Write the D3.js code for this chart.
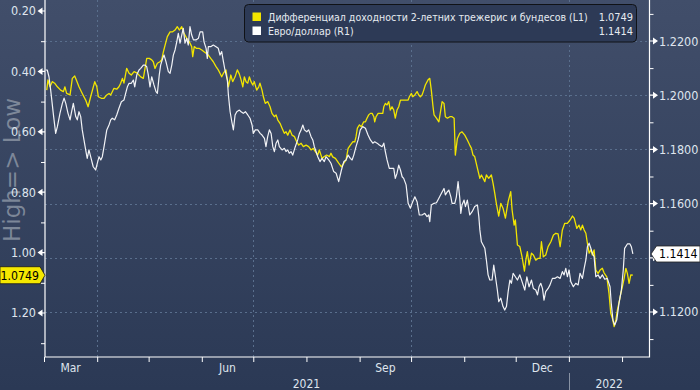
<!DOCTYPE html>
<html><head><meta charset="utf-8">
<script src="https://cdn.jsdelivr.net/npm/d3@7"></script>
<style>html,body{margin:0;padding:0;background:#2c3a56;}svg{display:block}</style>
</head><body><svg id="c" width="700" height="390"></svg>
<script>
// ---- DATA (day = days since 2021-03-01) ----
const START = Date.UTC(2021, 2, 1);
const END = Date.UTC(2022, 1, 17);
// 2y UST - Bund spread (left axis, inverted)
const spreadData = [[1.6,0.462],[2.3,0.428],[3.5,0.451],[4.8,0.434],[6.2,0.439],[7.8,0.451],[9.7,0.462],[11.3,0.467],[12.2,0.451],[13.2,0.473],[15.2,0.478],[16.5,0.423],[17.9,0.415],[18.8,0.428],[20.4,0.451],[22.3,0.473],[24.3,0.495],[25.7,0.517],[27.2,0.484],[29.6,0.434],[30.8,0.451],[31.7,0.484],[33.4,0.489],[35.0,0.489],[36.6,0.478],[37.9,0.473],[38.9,0.478],[40.8,0.456],[42.4,0.459],[43.7,0.451],[44.7,0.439],[45.7,0.423],[46.6,0.439],[48.2,0.390],[49.6,0.406],[50.9,0.412],[52.5,0.401],[54.4,0.406],[56.4,0.418],[57.9,0.423],[58.9,0.390],[59.9,0.357],[61.4,0.357],[62.8,0.362],[63.7,0.368],[64.7,0.390],[66.1,0.373],[67.6,0.368],[68.6,0.362],[69.6,0.335],[70.6,0.313],[71.9,0.285],[73.5,0.269],[75.0,0.269],[76.4,0.263],[77.7,0.252],[78.9,0.263],[80.3,0.252],[81.6,0.274],[83.2,0.290],[84.7,0.302],[86.1,0.318],[86.7,0.351],[87.6,0.318],[89.0,0.324],[90.6,0.324],[92.0,0.329],[93.3,0.335],[94.5,0.340],[95.8,0.346],[97.2,0.357],[98.7,0.368],[100.3,0.384],[101.6,0.395],[102.6,0.406],[103.6,0.418],[104.6,0.406],[106.1,0.395],[107.5,0.451],[108.9,0.412],[110.0,0.434],[111.4,0.418],[112.7,0.395],[113.9,0.409],[114.9,0.428],[115.9,0.451],[116.8,0.418],[117.8,0.434],[118.8,0.439],[119.7,0.418],[120.7,0.434],[121.7,0.445],[122.6,0.434],[124.0,0.462],[125.2,0.451],[125.9,0.439],[127.1,0.462],[127.9,0.484],[129.0,0.506],[130.4,0.500],[131.8,0.517],[132.9,0.539],[134.3,0.550],[135.3,0.544],[136.3,0.561],[137.6,0.572],[138.8,0.588],[140.1,0.605],[141.1,0.600],[142.1,0.611],[143.4,0.594],[144.6,0.611],[146.0,0.616],[147.3,0.633],[148.5,0.644],[149.9,0.638],[151.2,0.649],[152.8,0.644],[154.3,0.649],[155.7,0.660],[157.0,0.655],[158.2,0.666],[159.6,0.677],[160.5,0.660],[162.1,0.688],[163.4,0.682],[164.8,0.677],[166.4,0.682],[167.3,0.671],[168.3,0.683],[169.9,0.688],[171.8,0.704],[173.4,0.716],[174.8,0.704],[176.1,0.693],[177.3,0.655],[178.6,0.644],[180.0,0.633],[181.2,0.633],[181.9,0.616],[182.7,0.588],[183.9,0.577],[185.0,0.583],[186.4,0.567],[187.4,0.567],[188.3,0.555],[189.3,0.544],[190.3,0.539],[191.3,0.539],[192.3,0.550],[192.8,0.567],[193.6,0.550],[194.8,0.539],[196.1,0.539],[197.5,0.539],[198.1,0.517],[199.0,0.506],[200.0,0.511],[201.0,0.500],[201.9,0.528],[202.9,0.517],[203.9,0.528],[204.8,0.555],[205.8,0.528],[206.8,0.517],[207.8,0.495],[209.2,0.495],[210.7,0.495],[212.3,0.495],[213.0,0.484],[214.2,0.473],[215.0,0.484],[216.2,0.478],[217.5,0.467],[218.5,0.478],[219.4,0.484],[220.4,0.478],[221.4,0.462],[222.3,0.445],[223.9,0.428],[224.9,0.423],[225.8,0.462],[226.8,0.517],[227.4,0.544],[228.8,0.555],[230.2,0.567],[231.3,0.528],[232.1,0.500],[233.2,0.506],[234.0,0.550],[235.2,0.555],[236.6,0.550],[237.9,0.550],[239.1,0.555],[239.8,0.677],[241.0,0.622],[242.4,0.605],[243.7,0.600],[245.3,0.611],[246.8,0.627],[248.2,0.644],[249.2,0.655],[250.1,0.677],[251.1,0.682],[252.7,0.721],[254.1,0.754],[255.0,0.743],[256.0,0.754],[257.0,0.765],[257.9,0.743],[259.3,0.754],[260.8,0.743],[261.8,0.771],[262.8,0.804],[263.7,0.837],[265.1,0.879],[266.3,0.837],[267.6,0.853],[269.0,0.886],[270.6,0.831],[272.1,0.798],[272.9,0.859],[274.1,0.909],[274.8,0.892],[276.0,0.975],[277.4,0.980],[278.7,1.014],[280.1,1.061],[280.9,1.025],[281.8,0.997],[282.8,1.041],[284.2,1.002],[285.3,1.008],[286.7,1.025],[288.1,1.019],[289.2,1.019],[290.0,0.964],[291.1,1.014],[292.5,1.008],[293.9,0.980],[295.5,0.964],[297.0,0.942],[298.4,0.936],[299.7,0.938],[300.9,0.980],[302.2,0.925],[303.6,0.903],[305.1,0.903],[306.7,0.892],[308.1,0.879],[309.1,0.886],[310.6,0.920],[311.9,0.909],[312.9,0.925],[313.9,0.909],[314.9,0.925],[315.9,0.936],[316.8,0.969],[317.8,1.002],[318.8,0.991],[319.7,1.008],[320.7,0.991],[321.7,1.058],[323.0,1.069],[324.2,1.058],[325.5,1.052],[326.5,1.067],[328.1,1.080],[329.4,1.135],[330.4,1.201],[331.4,1.218],[332.4,1.245],[333.4,1.223],[334.3,1.190],[335.3,1.163],[336.3,1.135],[337.2,1.113],[338.2,1.085],[339.2,1.052],[340.1,1.069],[341.1,1.102],[342.1,1.074],[343.3,1.0749]];
// EUR/USD (right axis)
const eurData = [[1.0,1.2093],[1.9,1.2093],[2.9,1.2068],[3.9,1.2019],[5.4,1.1933],[6.8,1.1859],[7.8,1.1884],[9.3,1.1933],[10.7,1.1970],[11.7,1.1989],[12.7,1.1970],[14.0,1.1933],[15.2,1.1909],[15.9,1.1933],[17.1,1.1970],[18.5,1.1921],[19.4,1.1909],[20.4,1.1939],[21.4,1.1921],[22.3,1.1872],[23.3,1.1835],[24.3,1.1798],[25.2,1.1767],[26.2,1.1798],[27.2,1.1773],[28.7,1.1736],[30.1,1.1724],[31.1,1.1749],[32.1,1.1773],[33.1,1.1761],[34.0,1.1773],[35.0,1.1810],[36.6,1.1872],[37.9,1.1890],[38.9,1.1909],[39.8,1.1915],[41.2,1.1909],[42.4,1.1927],[43.7,1.1952],[45.1,1.1976],[46.6,1.1982],[47.6,1.2007],[48.6,1.2031],[49.6,1.2044],[50.9,1.2044],[52.1,1.2056],[52.9,1.2031],[54.1,1.2075],[55.4,1.2093],[56.4,1.2099],[57.9,1.2111],[58.9,1.2111],[59.9,1.2105],[60.8,1.2075],[61.8,1.2031],[62.8,1.2068],[64.1,1.2038],[65.3,1.2013],[66.1,1.2007],[67.2,1.2075],[68.0,1.2111],[69.2,1.2136],[70.0,1.2148],[71.1,1.2124],[72.5,1.2087],[73.5,1.2081],[74.5,1.2111],[75.4,1.2148],[76.4,1.2167],[77.4,1.2197],[78.3,1.2228],[79.3,1.2192],[80.3,1.2222],[81.2,1.2247],[82.2,1.2192],[83.2,1.2210],[84.1,1.2185],[85.1,1.2253],[86.1,1.2222],[87.1,1.2204],[88.6,1.2204],[90.0,1.2210],[91.0,1.2234],[92.5,1.2234],[93.3,1.2197],[94.5,1.2173],[95.2,1.2136],[95.8,1.2179],[97.2,1.2179],[98.7,1.2185],[100.3,1.2179],[101.6,1.2173],[102.6,1.2148],[103.6,1.2161],[104.6,1.2124],[105.5,1.2093],[106.9,1.2056],[107.5,1.2001],[108.5,1.1939],[109.5,1.1902],[110.4,1.1872],[111.4,1.1927],[112.4,1.1939],[113.9,1.1945],[114.9,1.1939],[116.2,1.1933],[117.4,1.1939],[118.8,1.1927],[120.1,1.1915],[121.3,1.1890],[122.0,1.1859],[123.2,1.1872],[124.6,1.1872],[126.0,1.1859],[127.1,1.1853],[128.5,1.1841],[129.4,1.1810],[130.4,1.1847],[131.4,1.1872],[132.4,1.1859],[133.4,1.1810],[134.3,1.1792],[135.3,1.1823],[136.3,1.1835],[137.2,1.1810],[138.8,1.1798],[140.1,1.1804],[141.1,1.1792],[142.1,1.1798],[143.0,1.1786],[144.0,1.1792],[145.0,1.1779],[146.5,1.1810],[147.9,1.1835],[148.9,1.1859],[149.9,1.1872],[150.9,1.1890],[151.8,1.1872],[153.2,1.1865],[154.3,1.1872],[155.7,1.1847],[156.7,1.1835],[157.6,1.1810],[158.6,1.1792],[159.6,1.1773],[160.9,1.1755],[162.1,1.1767],[163.4,1.1755],[164.4,1.1773],[166.0,1.1761],[167.3,1.1749],[168.9,1.1718],[170.3,1.1712],[171.8,1.1681],[173.4,1.1724],[174.8,1.1755],[176.1,1.1761],[177.3,1.1779],[178.6,1.1767],[179.6,1.1761],[180.6,1.1779],[181.9,1.1810],[183.1,1.1835],[184.4,1.1872],[185.8,1.1884],[187.4,1.1878],[188.9,1.1853],[190.3,1.1835],[191.7,1.1823],[192.8,1.1828],[194.2,1.1823],[195.5,1.1816],[197.1,1.1810],[198.1,1.1823],[199.0,1.1792],[200.0,1.1761],[201.3,1.1730],[202.9,1.1730],[203.9,1.1730],[204.8,1.1693],[205.8,1.1712],[206.8,1.1742],[207.8,1.1724],[208.8,1.1699],[209.7,1.1693],[211.1,1.1669],[212.3,1.1601],[213.6,1.1583],[214.6,1.1601],[216.2,1.1625],[217.5,1.1607],[218.8,1.1558],[220.4,1.1558],[222.0,1.1564],[223.3,1.1552],[224.3,1.1558],[224.9,1.1533],[225.8,1.1595],[227.4,1.1601],[228.8,1.1603],[230.2,1.1620],[231.7,1.1638],[233.2,1.1656],[234.0,1.1632],[235.2,1.1644],[236.0,1.1650],[237.2,1.1625],[237.9,1.1601],[239.5,1.1601],[240.4,1.1625],[241.4,1.1681],[242.4,1.1620],[243.0,1.1564],[243.7,1.1595],[244.9,1.1613],[245.7,1.1589],[246.8,1.1613],[248.2,1.1558],[249.6,1.1570],[251.1,1.1589],[252.7,1.1595],[253.5,1.1552],[254.1,1.1503],[255.0,1.1459],[256.0,1.1447],[257.0,1.1435],[257.9,1.1392],[258.9,1.1337],[259.9,1.1318],[261.2,1.1318],[262.2,1.1373],[263.2,1.1330],[264.3,1.1281],[265.1,1.1238],[266.3,1.1251],[267.6,1.1220],[268.6,1.1207],[269.6,1.1220],[270.6,1.1275],[271.6,1.1318],[272.5,1.1306],[273.5,1.1343],[274.8,1.1330],[276.0,1.1318],[277.4,1.1337],[278.7,1.1312],[280.3,1.1281],[281.5,1.1330],[282.8,1.1293],[284.2,1.1318],[285.3,1.1287],[286.7,1.1281],[287.7,1.1263],[288.6,1.1293],[289.6,1.1306],[290.6,1.1287],[291.5,1.1244],[292.5,1.1275],[293.9,1.1287],[295.0,1.1300],[296.4,1.1324],[297.8,1.1324],[299.3,1.1330],[300.9,1.1324],[302.2,1.1349],[303.2,1.1337],[304.2,1.1361],[305.1,1.1330],[306.1,1.1355],[307.1,1.1312],[308.6,1.1293],[310.0,1.1306],[311.4,1.1300],[312.5,1.1343],[313.9,1.1324],[314.9,1.1361],[315.9,1.1392],[316.8,1.1441],[317.8,1.1454],[318.8,1.1435],[319.7,1.1417],[320.7,1.1404],[321.7,1.1330],[323.0,1.1337],[324.2,1.1324],[325.5,1.1337],[326.9,1.1321],[328.4,1.1324],[330.0,1.1293],[330.7,1.1232],[331.7,1.1170],[332.7,1.1152],[333.9,1.1170],[335.2,1.1232],[336.6,1.1281],[337.7,1.1355],[338.5,1.1435],[340.1,1.1451],[341.6,1.1451],[342.4,1.1441],[343.3,1.1414]];

const leftTicks = [0.2, 0.4, 0.6, 0.8, 1.0, 1.2];
const leftMinor = [0.3, 0.5, 0.7, 0.9, 1.1, 1.3];
const rightTicks = [1.12, 1.14, 1.16, 1.18, 1.20, 1.22];
const rightMinor = [1.11, 1.13, 1.15, 1.17, 1.19, 1.21, 1.23];
const hiddenRightLabels = [1.14];
const monthLabels = [["2021-03-01","Mar"],["2021-06-01","Jun"],["2021-09-01","Sep"],["2021-12-01","Dec"]];
const gridMonths = ["2021-04-01","2021-07-01","2021-10-01","2022-01-01"];
const yearLabels = [["2021","2021-03-01","2022-01-01"],["2022","2022-01-01","2022-02-17"]];
const legendNames = ["Дифференциал доходности 2-летних трежерис и бундесов (L1)", "Евро/доллар (R1)"];
const lastValues = [1.0749, 1.1414];
const axisTitle = "High=> Low";

// ---- LAYOUT ----
const W = 700, H = 390;
const L = 45, R = 649.5, T = 0, B = 357;
const FONT = "'DejaVu Sans Condensed','DejaVu Sans',sans-serif";
const svg = d3.select("#c");

const toDate = d => new Date(START + d * 864e5);
const parse = s => new Date(s + "T00:00:00Z");
const x = d3.scaleUtc().domain([new Date(START), new Date(END)]).range([44, R]);
const yL = d3.scaleLinear().domain([0.16358, 1.34570]).range([T, B]);
const yR = d3.scaleLinear().domain([1.23513, 1.10339]).range([T, B]);

const defs = svg.append("defs");
const g1 = defs.append("linearGradient").attr("id","bg").attr("x1",0).attr("y1",0).attr("x2",0).attr("y2",1);
g1.append("stop").attr("offset","0%").attr("stop-color","#414e6a");
g1.append("stop").attr("offset","100%").attr("stop-color","#2b3955");
defs.append("clipPath").attr("id","plot").append("rect").attr("x",L).attr("y",T).attr("width",R-L).attr("height",B-T);

svg.append("rect").attr("width",W).attr("height",H).attr("fill","url(#bg)");

// axis title
svg.append("text").attr("transform",`translate(20,170) rotate(-90)`)
  .attr("text-anchor","middle").attr("font-family","'DejaVu Sans',sans-serif").attr("font-size",23)
  .attr("fill","#8a94a3").attr("fill-opacity",0.85).text(axisTitle);

// grid
const grid = svg.append("g").attr("stroke","#5a6f8d").attr("stroke-width",1).attr("stroke-dasharray","2,3");
grid.selectAll("line.h").data(rightTicks).join("line")
  .attr("x1",L).attr("x2",R).attr("y1",d=>Math.round(yR(d))+0.5).attr("y2",d=>Math.round(yR(d))+0.5);
grid.selectAll("line.v").data(gridMonths).join("line")
  .attr("y1",T).attr("y2",B).attr("x1",d=>Math.round(x(parse(d)))+0.5).attr("x2",d=>Math.round(x(parse(d)))+0.5);

// lines
const plot = svg.append("g").attr("clip-path","url(#plot)");
const lineL = d3.line().x(d=>x(toDate(d[0]))).y(d=>yL(d[1]));
const lineR = d3.line().x(d=>x(toDate(d[0]))).y(d=>yR(d[1]));
plot.append("path").attr("d",lineL(spreadData)).attr("fill","none").attr("stroke","#f2e500").attr("stroke-width",1.3).attr("stroke-linejoin","round");
plot.append("path").attr("d",lineR(eurData)).attr("fill","none").attr("stroke","#f2f3f6").attr("stroke-width",1.2).attr("stroke-linejoin","round");

// frame
const frame = svg.append("g").attr("stroke","#ffffff").attr("stroke-width",1.2).attr("fill","none");
frame.append("path").attr("d",`M${L},${T}V${B}H${R}V${T}`);

// bottom ticks
const xAxis = d3.axisBottom(x).ticks(d3.utcMonth.every(1)).tickSize(5).tickFormat("");
const gx = svg.append("g").attr("transform",`translate(0,${B})`).call(xAxis);
gx.select(".domain").remove();
gx.selectAll(".tick line").attr("stroke","#fff");

// minor y ticks
const gl = svg.append("g").attr("transform",`translate(${L},0)`).call(d3.axisLeft(yL).tickValues(leftMinor).tickSize(4).tickFormat(""));
gl.select(".domain").remove(); gl.selectAll(".tick line").attr("stroke","#fff");
const gr = svg.append("g").attr("transform",`translate(${R},0)`).call(d3.axisRight(yR).tickValues(rightMinor).tickSize(4).tickFormat(""));
gr.select(".domain").remove(); gr.selectAll(".tick line").attr("stroke","#fff");

// major tick arrows + labels
const lbl = "#dfe5ee";
svg.selectAll("path.la").data(leftTicks).join("path")
  .attr("d",d=>{const y=yL(d);return `M${L},${y-0.6}H42.5V${y-3.5}L37.5,${y}L42.5,${y+3.5}V${y+0.6}H${L}Z`;})
  .attr("fill","#fff");
svg.selectAll("text.lt").data(leftTicks).join("text")
  .attr("x",36).attr("y",d=>yL(d)+4.5).attr("text-anchor","end")
  .attr("font-family",FONT).attr("font-size",12.5).attr("fill",lbl).text(d3.format(".2f"));
svg.selectAll("path.ra").data(rightTicks).join("path")
  .attr("d",d=>{const y=yR(d);return `M${R},${y-0.6}H653V${y-3.5}L658,${y}L653,${y+3.5}V${y+0.6}H${R}Z`;})
  .attr("fill","#fff");
svg.selectAll("text.rt").data(rightTicks.filter(d=>!hiddenRightLabels.includes(d))).join("text")
  .attr("x",659).attr("y",d=>yR(d)+4.5).attr("text-anchor","start")
  .attr("font-family",FONT).attr("font-size",12.5).attr("fill",lbl).text(d3.format(".4f"));

// month labels (centered in month)
svg.selectAll("text.m").data(monthLabels).join("text")
  .attr("x",d=>{const a=parse(d[0]);return (x(a)+x(d3.utcMonth.offset(a,1)))/2;})
  .attr("y",372).attr("text-anchor","middle").attr("font-family",FONT).attr("font-size",12)
  .attr("fill",lbl).text(d=>d[1]);
svg.selectAll("text.y").data(yearLabels).join("text")
  .attr("x",d=>(x(parse(d[1]))+Math.min(x(parse(d[2])),R))/2)
  .attr("y",388).attr("text-anchor","middle").attr("font-family",FONT).attr("font-size",12)
  .attr("fill",lbl).text(d=>d[0]);
svg.append("line").attr("x1",Math.round(x(parse("2022-01-01")))+0.5).attr("x2",Math.round(x(parse("2022-01-01")))+0.5)
  .attr("y1",373).attr("y2",H).attr("stroke","#8892a3").attr("stroke-width",1);

// legend
const lg = svg.append("g");
lg.append("rect").attr("x",244.5).attr("y",4.5).attr("width",392).attr("height",37.5).attr("rx",4)
  .attr("fill","#2d3a56").attr("stroke","#101216").attr("stroke-width",1);
const colors = ["#f2e500","#ffffff"];
legendNames.forEach((n,i)=>{
  const yy = 12.5 + i*14;
  lg.append("rect").attr("x",252.5).attr("y",yy).attr("width",8.5).attr("height",8.5).attr("fill",colors[i]);
  lg.append("text").attr("x",268).attr("y",yy+8.5).attr("font-family",FONT).attr("font-size",10.5)
    .attr("fill","#e6eaf0").text(n);
  lg.append("text").attr("x",633).attr("y",yy+8.5).attr("text-anchor","end").attr("font-family",FONT).attr("font-size",10.9)
    .attr("fill","#e6eaf0").text(d3.format(".4f")(lastValues[i]));
});

// last value tags
const yl = yL(lastValues[0]);
svg.append("path").attr("d",`M0,${yl-8.5}H40L45,${yl}L40,${yl+8.5}H0Z`).attr("fill","#f5e800").attr("stroke","#1a1a1a").attr("stroke-width",0.8);
svg.append("text").attr("x",0.5).attr("y",yl+4.5).attr("font-family",FONT).attr("font-size",12.2).attr("fill","#000").text(d3.format(".4f")(lastValues[0]));
const yr = yR(lastValues[1]);
svg.append("path").attr("d",`M651,${yr}L656.5,${yr-8}H700V${yr+8}H656.5Z`).attr("fill","#ffffff").attr("stroke","#222").attr("stroke-width",0.8);
svg.append("text").attr("x",659).attr("y",yr+4.5).attr("font-family",FONT).attr("font-size",12.2).attr("fill","#000").text(d3.format(".4f")(lastValues[1]));
</script></body></html>
